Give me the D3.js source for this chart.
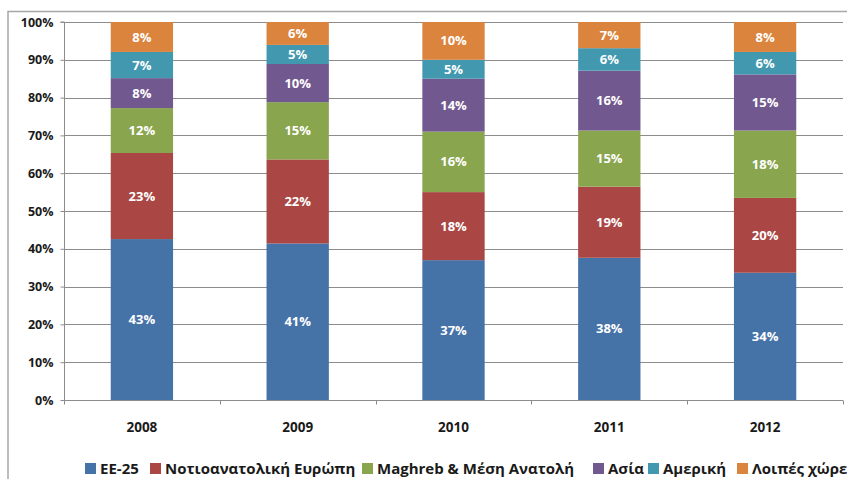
<!DOCTYPE html>
<html>
<head>
<meta charset="utf-8">
<script src="https://cdn.jsdelivr.net/npm/d3@7"></script>
<style>
  html, body { margin: 0; padding: 0; background: #fff; }
  svg { display: block; }
  text { font-family: "Open Sans", "Liberation Sans", sans-serif; }
</style>
</head>
<body>
<svg id="chart" width="847" height="479"></svg>
<script>
const years = ["2008", "2009", "2010", "2011", "2012"];
const seriesNames = ["ΕΕ-25", "Νοτιοανατολική Ευρώπη", "Maghreb & Μέση Ανατολή", "Ασία", "Αμερική", "Λοιπές χώρες"];
const seriesColors = ["#4572A7", "#AA4643", "#89A54E", "#71588F", "#4198AF", "#DB843D"];
const ee25 =        [43, 41, 37, 38, 34];
const seEurope =    [23, 22, 18, 19, 20];
const maghreb =     [12, 15, 16, 15, 18];
const asia =        [8, 10, 14, 16, 15];
const america =     [7, 5, 5, 6, 6];
const others =      [8, 6, 10, 7, 8];
const yTicks = [0, 0.1, 0.2, 0.3, 0.4, 0.5, 0.6, 0.7, 0.8, 0.9, 1.0];

const seriesValues = [ee25, seEurope, maghreb, asia, america, others];
const keys = seriesNames;
const table = years.map((y, i) => {
  const row = { year: y };
  keys.forEach((k, j) => row[k] = seriesValues[j][i]);
  return row;
});

const svg = d3.select("#chart");
const plot = { left: 64, right: 843, top: 22, bottom: 400 };

// outer frame (extends beyond the visible area on the right and bottom)
svg.append("rect")
  .attr("x", 8).attr("y", 11.5)
  .attr("width", 900).attr("height", 600)
  .attr("fill", "none").attr("stroke", "#a6a6a6").attr("stroke-width", 1.5);

const x = d3.scaleBand().domain(years).range([plot.left, plot.right])
  .paddingInner(0.6).paddingOuter(0.3);
const y = d3.scaleLinear().domain([0, 1]).range([plot.bottom, plot.top]);

// gridlines
svg.append("g").selectAll("line").data(yTicks.filter(t => t > 0)).join("line")
  .attr("x1", plot.left).attr("x2", plot.right)
  .attr("y1", d => Math.round(y(d)) + 0.5).attr("y2", d => Math.round(y(d)) + 0.5)
  .attr("stroke", "#8c8c8c").attr("stroke-width", 1);

const stack = d3.stack().keys(keys).offset(d3.stackOffsetExpand);
const stacked = stack(table);

const layers = svg.append("g").selectAll("g").data(stacked).join("g")
  .attr("fill", (d, i) => seriesColors[i]);
layers.selectAll("rect").data(d => d.map(p => ({ p, key: d.key }))).join("rect")
  .attr("x", d => x(d.p.data.year))
  .attr("width", x.bandwidth())
  .attr("y", d => y(d.p[1]))
  .attr("height", d => y(d.p[0]) - y(d.p[1]));

layers.selectAll("text").data(d => d.map(p => ({ p, key: d.key }))).join("text")
  .attr("x", d => x(d.p.data.year) + x.bandwidth() / 2)
  .attr("y", d => (y(d.p[0]) + y(d.p[1])) / 2)
  .attr("dy", "0.35em")
  .attr("text-anchor", "middle")
  .attr("fill", "#ffffff")
  .attr("font-size", "13px")
  .attr("font-weight", "bold")
  .text(d => d.p.data[d.key] + "%");

// y axis
const yAxis = d3.axisLeft(y).tickValues(yTicks).tickFormat(d3.format(".0%"))
  .tickSize(4).tickPadding(7);
const gy = svg.append("g").attr("transform", `translate(${plot.left + 0.5},0)`).call(yAxis);
gy.select(".domain").attr("stroke", "#8c8c8c").attr("d", `M-4,${y(1)}H0V${plot.bottom + 4}`);
gy.selectAll(".tick line").attr("stroke", "#8c8c8c");
gy.selectAll(".tick text").attr("fill", "#1a1a1a").attr("font-size", "12.5px")
  .attr("font-weight", "bold").attr("font-family", "'Open Sans', sans-serif");

// x axis
const xAxis = d3.axisBottom(x).tickSize(0).tickPadding(22);
const gx = svg.append("g").attr("transform", `translate(0,${plot.bottom + 0.5})`).call(xAxis);
gx.select(".domain").attr("stroke", "#8c8c8c").attr("d", `M${plot.left},0H${plot.right}`);
gx.selectAll(".tick text").attr("fill", "#1a1a1a").attr("font-size", "13.5px")
  .attr("font-weight", "bold").attr("font-family", "'Open Sans', sans-serif");
// category boundary ticks
const boundaries = d3.range(years.length + 1).map(i => plot.left + i * (plot.right - plot.left) / years.length);
gx.append("g").selectAll("line").data(boundaries).join("line")
  .attr("x1", d => Math.round(d) + 0.5).attr("x2", d => Math.round(d) + 0.5)
  .attr("y1", 0).attr("y2", 4)
  .attr("stroke", "#8c8c8c");

// legend
const legendX = [85, 150, 362, 593, 648, 737];
const legend = svg.append("g").selectAll("g").data(seriesNames).join("g")
  .attr("transform", (d, i) => `translate(${legendX[i]},463)`);
legend.append("rect").attr("width", 11).attr("height", 11)
  .attr("fill", (d, i) => seriesColors[i]);
legend.append("text").attr("x", 15).attr("y", 11)
  .attr("font-size", "15px").attr("font-weight", "bold").attr("fill", "#1a1a1a")
  .text(d => d);
</script>
</body>
</html>
